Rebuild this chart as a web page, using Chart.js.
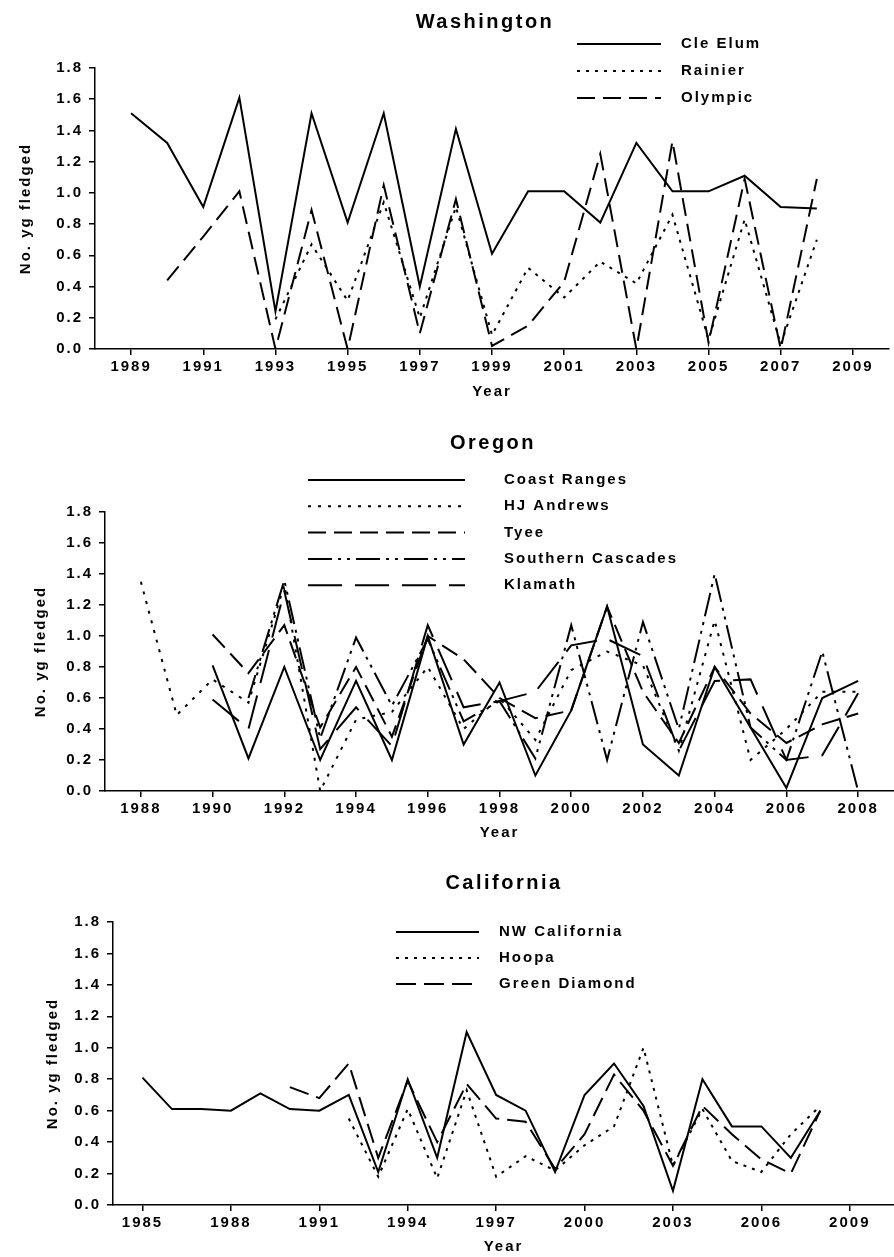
<!DOCTYPE html>
<html>
<head>
<meta charset="utf-8">
<title>No. yg fledged - Washington / Oregon / California</title>
<script src="https://cdn.jsdelivr.net/npm/chart.js@4.4.1/dist/chart.umd.min.js"></script>
<style>
  html, body { margin:0; padding:0; background:#fff; }
  #page { position:relative; width:894px; height:1257px; overflow:hidden; }
  #page canvas { position:absolute; left:0; }
</style>
</head>
<body>
<div id="page">
  <canvas id="wa-chart" width="894" height="410" style="top:0px"></canvas>
  <canvas id="or-chart" width="894" height="440" style="top:410px"></canvas>
  <canvas id="ca-chart" width="894" height="407" style="top:850px"></canvas>
</div>
<script>
// ------------------------------------------------------
// data
// ------------------------------------------------------
const yTicks = [0, 0.2, 0.4, 0.6, 0.8, 1.0, 1.2, 1.4, 1.6, 1.8];

// Washington
const waYears   = [1989,1990,1991,1992,1993,1994,1995,1996,1997,1998,1999,2000,2001,2002,2003,2004,2005,2006,2007,2008];
const waCleElum = [1.51,1.32,0.91,1.61,0.24,1.51,0.81,1.51,0.40,1.41,0.61,1.01,1.01,0.81,1.32,1.01,1.01,1.11,0.91,0.90];
const waRainier = [null,null,null,null,0.19,0.67,0.31,0.94,0.20,0.91,0.09,0.52,0.33,0.56,0.42,0.86,0.06,0.83,0.03,0.70];
const waOlympic = [null,0.44,0.72,1.01,0.00,0.89,0.00,1.05,0.10,0.96,0.02,0.15,0.43,1.25,0.00,1.33,0.04,1.09,0.00,1.09];
const waXTicks  = [1989,1991,1993,1995,1997,1999,2001,2003,2005,2007,2009];

// Oregon
const orYears      = [1988,1989,1990,1991,1992,1993,1994,1995,1996,1997,1998,1999,2000,2001,2002,2003,2004,2005,2006,2007,2008];
const orCoast      = [null,null,0.81,0.21,0.80,0.20,0.71,0.20,1.00,0.30,0.70,0.10,0.52,1.19,0.30,0.10,0.80,0.41,0.02,0.60,0.71];
const orHJAndrews  = [1.35,0.49,0.72,0.57,1.33,0.00,0.46,0.51,0.80,0.40,0.60,0.33,0.78,0.90,0.81,0.26,1.10,0.20,0.40,0.64,0.64];
const orTyee       = [null,null,1.01,0.76,1.07,0.41,0.80,0.35,1.00,0.85,0.60,0.47,0.52,1.19,0.64,0.31,0.80,0.50,0.31,0.43,0.50];
const orSCascades  = [null,null,null,0.60,1.36,0.34,0.99,0.55,0.98,0.45,0.58,0.21,1.07,0.20,1.09,0.40,1.40,0.41,0.20,0.90,0.00];
const orKlamath    = [null,null,0.59,0.40,1.29,0.27,0.54,0.29,1.07,0.54,0.58,0.64,0.94,0.98,0.87,0.26,0.71,0.72,0.20,0.23,0.63];
const orXTicks     = [1988,1990,1992,1994,1996,1998,2000,2002,2004,2006,2008];

// California
const caYears    = [1985,1986,1987,1988,1989,1990,1991,1992,1993,1994,1995,1996,1997,1998,1999,2000,2001,2002,2003,2004,2005,2006,2007,2008];
const caNW       = [0.81,0.61,0.61,0.60,0.71,0.61,0.60,0.70,0.21,0.80,0.30,1.10,0.70,0.60,0.21,0.70,0.90,0.63,0.09,0.80,0.50,0.50,0.30,0.60];
const caHoopa    = [null,null,null,null,null,null,null,0.55,0.18,0.61,0.17,0.73,0.18,0.31,0.22,0.38,0.50,1.00,0.25,0.61,0.28,0.21,0.45,0.63];
const caGreenDia = [null,null,null,null,null,0.75,0.68,0.90,0.30,0.79,0.40,0.77,0.55,0.53,0.23,0.45,0.83,0.60,0.25,0.63,0.45,0.29,0.20,0.60];
const caXTicks   = [1985,1988,1991,1994,1997,2000,2003,2006,2009];


// ------------------------------------------------------
// fonts
// ------------------------------------------------------
const FAMILY = '"Liberation Sans", Arial, Helvetica, sans-serif';
const tickFont = { family: FAMILY, size: 15, weight: 'bold' };
const axisFont = { family: FAMILY, size: 15, weight: 'bold' };


// ------------------------------------------------------
// title + legend drawn inside the canvas (legend sits in plot area)
// ------------------------------------------------------
const panelText = {
  id: 'panelText',
  beforeDraw(chart){
    chart.ctx.letterSpacing = '2px';
  },
  afterDraw(chart, args, o){
    const ctx = chart.ctx;
    ctx.save();
    ctx.fillStyle = '#000';
    ctx.strokeStyle = '#000';

    ctx.font = 'bold 20px ' + FAMILY;
    ctx.letterSpacing = '2.5px';
    ctx.textAlign = 'center';
    ctx.textBaseline = 'middle';
    ctx.fillText(o.title, o.titleX, o.titleY);

    ctx.font = 'bold 15px ' + FAMILY;
    ctx.letterSpacing = '2px';
    ctx.textAlign = 'left';
    chart.data.datasets.forEach((ds, i)=>{
      const y = o.legendY + i * o.legendStep;
      ctx.beginPath();
      ctx.setLineDash(ds.borderDash || []);
      ctx.lineWidth = ds.borderWidth;
      ctx.moveTo(o.sampleX0, y);
      ctx.lineTo(o.sampleX1, y);
      ctx.stroke();
      ctx.setLineDash([]);
      ctx.fillText(ds.label, o.textX, y);
    });
    ctx.restore();
  }
};


// ------------------------------------------------------
// one panel
// ------------------------------------------------------
function buildPanel(canvasId, p){
  const el = document.getElementById(canvasId);

  const datasets = p.series.map(s => ({
    label: s.label,
    data: p.years.map((yr, i) => ({ x: yr, y: s.values[i] })),
    borderColor: '#000',
    borderWidth: s.width || 2,
    borderDash: s.dash,
    pointRadius: 0,
    fill: false,
    tension: 0,
    spanGaps: false
  }));

  return new Chart(el, {
    type: 'line',
    data: { datasets },
    plugins: [panelText],
    options: {
      responsive: false,
      animation: false,
      devicePixelRatio: 1,
      layout: { padding: p.padding },
      plugins: {
        legend: { display: false },
        tooltip: { enabled: false },
        panelText: p.text
      },
      scales: {
        x: {
          type: 'linear',
          min: p.xMin,
          max: p.xMax,
          afterBuildTicks: s => { s.ticks = p.xTicks.map(v => ({ value: v })); },
          afterFit: s => { s.height = p.xHeight; },
          ticks: { callback: v => String(v), color: '#000', font: tickFont, padding: 3, autoSkip: false, maxRotation: 0 },
          grid: { display: true, drawOnChartArea: false, drawTicks: true, tickLength: 6, color: '#000', lineWidth: 1.5 },
          border: { display: true, color: '#000', width: 1.5 },
          title: { display: true, text: 'Year', color: '#000', font: axisFont, padding: 0 }
        },
        y: {
          type: 'linear',
          min: 0,
          max: 1.8,
          afterBuildTicks: s => { s.ticks = yTicks.map(v => ({ value: v })); },
          afterFit: s => { s.width = p.yWidth; },
          ticks: { callback: v => Number(v).toFixed(1), color: '#000', font: tickFont, padding: 6 },
          grid: { display: true, drawOnChartArea: false, drawTicks: true, tickLength: 6, color: '#000', lineWidth: 1.5 },
          border: { display: true, color: '#000', width: 1.5 },
          title: { display: true, text: 'No. yg fledged', color: '#000', font: axisFont, padding: 0 }
        }
      }
    }
  });
}


// ------------------------------------------------------
// Washington
// ------------------------------------------------------
buildPanel('wa-chart', {
  years: waYears,
  xMin: 1988, xMax: 2010, xTicks: waXTicks,
  padding: { top: 68, left: 17, right: 5, bottom: 9 },
  yWidth: 78, xHeight: 52,
  series: [
    { label: 'Cle Elum', values: waCleElum, dash: [] },
    { label: 'Rainier',  values: waRainier, dash: [3, 6] },
    { label: 'Olympic',  values: waOlympic, dash: [18, 8] }
  ],
  text: { title: 'Washington', titleX: 485, titleY: 22,
          legendY: 44, legendStep: 27, sampleX0: 577, sampleX1: 661, textX: 681 }
});

// ------------------------------------------------------
// Oregon
// ------------------------------------------------------
buildPanel('or-chart', {
  years: orYears,
  xMin: 1987, xMax: 2009, xTicks: orXTicks,
  padding: { top: 102, left: 32, right: 0, bottom: 8 },
  yWidth: 73, xHeight: 51,
  series: [
    { label: 'Coast Ranges',      values: orCoast,     dash: [] },
    { label: 'HJ Andrews',        values: orHJAndrews, dash: [3, 7] },
    { label: 'Tyee',              values: orTyee,      dash: [18, 8] },
    { label: 'Southern Cascades', values: orSCascades, dash: [24, 6, 3, 6, 3, 6] },
    { label: 'Klamath',           values: orKlamath,   dash: [34, 13] }
  ],
  text: { title: 'Oregon', titleX: 493, titleY: 33,
          legendY: 70, legendStep: 26.3, sampleX0: 308, sampleX1: 465, textX: 504 }
});

// ------------------------------------------------------
// California
// ------------------------------------------------------
buildPanel('ca-chart', {
  years: caYears,
  xMin: 1984, xMax: 2010.5, xTicks: caXTicks,
  padding: { top: 72, left: 44, right: 0, bottom: 1 },
  yWidth: 69, xHeight: 51,
  series: [
    { label: 'NW California', values: caNW,       dash: [] },
    { label: 'Hoopa',         values: caHoopa,    dash: [3, 6] },
    { label: 'Green Diamond', values: caGreenDia, dash: [20, 8] }
  ],
  text: { title: 'California', titleX: 504, titleY: 33,
          legendY: 82, legendStep: 26, sampleX0: 396, sampleX1: 479, textX: 499 }
});
</script>
</body>
</html>
